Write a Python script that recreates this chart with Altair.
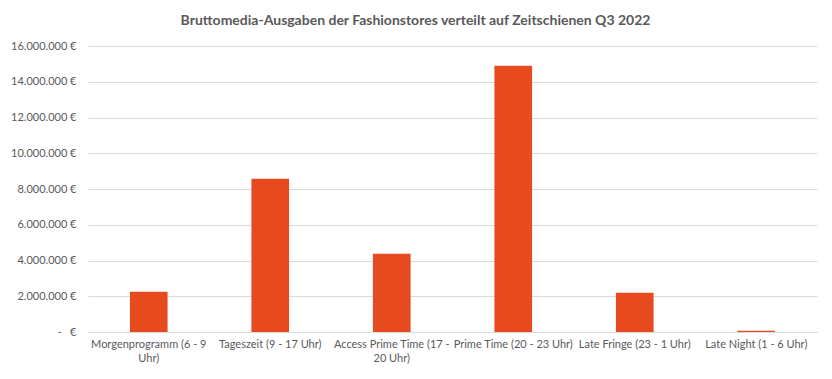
import altair as alt
import pandas as pd

categories = [
    "Morgenprogramm (6 - 9 Uhr)",
    "Tageszeit (9 - 17 Uhr)",
    "Access Prime Time (17 - 20 Uhr)",
    "Prime Time (20 - 23 Uhr)",
    "Late Fringe (23 - 1 Uhr)",
    "Late Night (1 - 6 Uhr)",
]
values = [2250000, 8580000, 4380000, 14900000, 2200000, 65000]
y_ticks = [0, 2000000, 4000000, 6000000, 8000000, 10000000, 12000000, 14000000, 16000000]

df = pd.DataFrame({"Zeitschiene": categories, "Ausgaben": values})

FONT = "Lato"
GREY = "#595959"

x_label_expr = (
    "datum.label == 'Morgenprogramm (6 - 9 Uhr)' ? ['Morgenprogramm (6 - 9', 'Uhr)'] : "
    "datum.label == 'Access Prime Time (17 - 20 Uhr)' ? ['Access Prime Time (17 -', '20 Uhr)'] : datum.label"
)
y_label_expr = (
    "datum.value == 0 ? '-\u00a0\u00a0\u00a0€' : replace(format(datum.value, ',d'), regexp(',', 'g'), '.') + ' €'"
)

chart = (
    alt.Chart(df)
    .mark_bar(color="#E84A1F")
    .encode(
        x=alt.X(
            "Zeitschiene:N",
            sort=categories,
            title=None,
            scale=alt.Scale(paddingInner=0.69, paddingOuter=0.345),
            axis=alt.Axis(
                labelAngle=0,
                labelExpr=x_label_expr,
                labelFont=FONT,
                labelFontSize=11,
                labelColor=GREY,
                ticks=False,
                domainColor="#D9D9D9",
                labelPadding=6,
                labelLineHeight=14,
            ),
        ),
        y=alt.Y(
            "Ausgaben:Q",
            title=None,
            scale=alt.Scale(domain=[0, 16000000]),
            axis=alt.Axis(
                values=y_ticks,
                labelExpr=y_label_expr,
                labelFont=FONT,
                labelFontSize=11,
                labelColor=GREY,
                ticks=False,
                domain=False,
                gridColor="#D9D9D9",
                labelPadding=12,
            ),
        ),
    )
    .properties(
        width=729,
        height=286,
        padding={"left": 80, "top": 38, "right": 7, "bottom": 39},
        autosize=alt.AutoSizeParams(type="none"),
        title=alt.TitleParams(
            "Bruttomedia-Ausgaben der Fashionstores verteilt auf Zeitschienen Q3 2022",
            font=FONT,
            fontSize=14,
            fontWeight="bold",
            color=GREY,
            anchor="middle",
            dx=-37,
            offset=12,
        ),
    )
    .configure_view(stroke=None)
)

chart.save("out.html", embed_options={"renderer": "svg", "actions": False})
